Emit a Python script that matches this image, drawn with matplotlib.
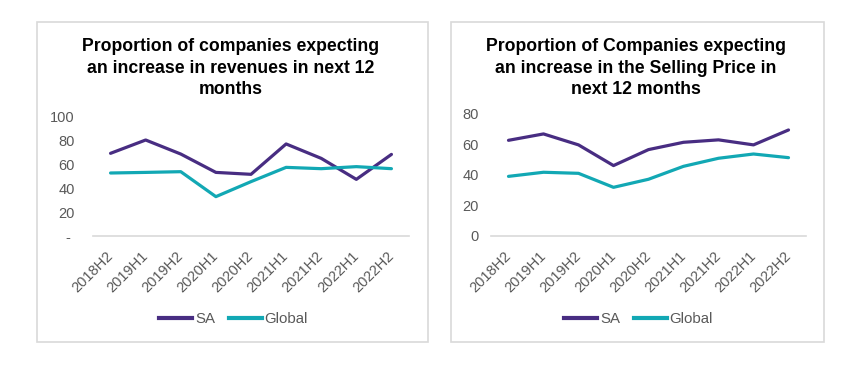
import matplotlib.pyplot as plt
from matplotlib.patches import Rectangle
from matplotlib.lines import Line2D
import numpy as np

plt.rcParams['font.family'] = ['Liberation Sans', 'DejaVu Sans']

periods = ["2018H2", "2019H1", "2019H2", "2020H1", "2020H2",
           "2021H1", "2021H2", "2022H1", "2022H2"]

# revenues expectations
rev_sa = [68.9, 80.0, 68.3, 53.0, 51.4, 76.7, 64.7, 47.2, 68.0]
rev_global = [52.5, 53.0, 53.6, 32.8, 45.3, 57.2, 56.1, 57.8, 56.1]

# selling price expectations
price_sa = [62.7, 66.9, 59.7, 46.1, 56.6, 61.4, 63.0, 59.7, 69.5]
price_global = [39.0, 41.7, 41.0, 31.8, 37.1, 45.6, 50.9, 53.7, 51.3]

titles = [
    "Proportion of companies expecting\nan increase in revenues in next 12\nmonths",
    "Proportion of Companies expecting\nan increase in the Selling Price in\nnext 12 months",
]

SA_COLOR = "#482D82"
GLOBAL_COLOR = "#12A8B4"
TEXT_GRAY = "#595959"
BORDER = "#D9D9D9"

W, H = 852, 377
fig = plt.figure(figsize=(W / 100, H / 100), dpi=100)


def fx(px):
    return px / W


def fy(py):
    return 1 - py / H


# panel frames (pixel boxes: left, top, right, bottom)
panels = [(37, 22, 428, 342), (451, 22, 824, 342)]
for l, t, r, b in panels:
    fig.patches.append(Rectangle((fx(l), fy(b)), fx(r - l), (b - t) / H,
                                 transform=fig.transFigure, fill=False,
                                 edgecolor=BORDER, linewidth=1.2))

# axes areas in pixels (left, top, right, bottom)
axes_px = [(93, 116, 409, 236), (491, 114, 806, 235.7)]
ylims = [(0, 100), (0, 80)]
yticks = [np.arange(0, 101, 20), np.arange(0, 81, 20)]
ylabels = [["- "] + [str(v) for v in range(20, 101, 20)],
           [str(v) for v in range(0, 81, 20)]]
ypads = [13, 9]
series = [(rev_sa, rev_global), (price_sa, price_global)]

x = np.arange(len(periods))
for i, (l, t, r, b) in enumerate(axes_px):
    ax = fig.add_axes([fx(l), fy(b), fx(r - l), (b - t) / H])
    sa, gl = series[i]
    ax.plot(x, sa, color=SA_COLOR, lw=2.3, solid_capstyle='round')
    ax.plot(x, gl, color=GLOBAL_COLOR, lw=2.3, solid_capstyle='round')
    ax.set_xlim(-0.5, len(periods) - 0.5)
    ax.set_ylim(*ylims[i])
    ax.set_yticks(yticks[i])
    ax.set_yticklabels(ylabels[i])
    ax.set_xticks(x)
    ax.set_xticklabels(periods, rotation=45, ha='right', va='center',
                       rotation_mode='anchor')
    for s in ['top', 'right', 'left']:
        ax.spines[s].set_visible(False)
    ax.spines['bottom'].set_color(BORDER)
    ax.spines['bottom'].set_linewidth(1.2)
    ax.tick_params(axis='both', length=0, colors=TEXT_GRAY, labelsize=10.5)
    ax.tick_params(axis='y', pad=ypads[i])
    ax.tick_params(axis='x', pad=13)
    ax.patch.set_alpha(0)

    pl, pt, pr, pb = panels[i]
    fig.text(fx((pl + pr) / 2 - 2), fy(38), titles[i], ha='center', va='top',
             fontsize=12.7, fontweight='bold', color='black', linespacing=1.35)

    handles = [Line2D([], [], color=SA_COLOR, lw=3),
               Line2D([], [], color=GLOBAL_COLOR, lw=3)]
    fig.legend(handles, ["SA", "Global"], loc='center',
               bbox_to_anchor=(fx((pl + pr) / 2 + 1), fy(319)), ncol=2,
               frameon=False, fontsize=10.8, handlelength=2.2,
               handletextpad=0.2, columnspacing=0.9, labelcolor=TEXT_GRAY)

fig.savefig("out.png", dpi=100)
